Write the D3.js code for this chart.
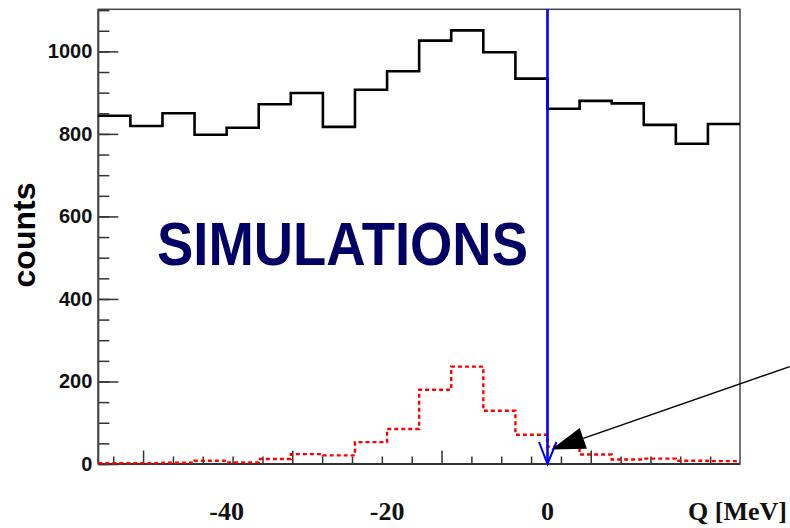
<!DOCTYPE html>
<html>
<head>
<meta charset="utf-8">
<script src="https://cdn.jsdelivr.net/npm/d3@7"></script>
<style>
  body { margin: 0; background: #ffffff; }
  svg { display: block; }
</style>
</head>
<body>
<svg id="chart" width="790" height="528"></svg>
<script>
// ===== Q-value histogram: data vs simulation =====

// lower edge of each 4 MeV bin
var binLow = [-56, -52, -48, -44, -40, -36, -32, -28, -24, -20,
              -16, -12, -8, -4, 0, 4, 8, 12, 16, 20];
var binWidth = 4;

// black solid histogram
var dataCounts = [844, 819, 850, 798, 815, 872, 899, 817, 907, 952,
                  1026, 1051, 998, 934, 861, 880, 874, 822, 776, 824];

// red dotted histogram (simulation)
var simCounts = [2, 2, 3, 8, 4, 12, 24, 21, 53, 85,
                 180, 236, 129, 71, 42, 23, 11, 13, 8, 7];

var yTicksMajor = [0, 200, 400, 600, 800, 1000];
var xLabels = [-40, -20, 0];

// the frame's own tick marks run on a different range than the labels
var frameTicksMajor = [-50, -30, -10, 10];
var frameTicksMinor = [-54, -46, -42, -38, -34, -26, -22, -18, -14,
                       -6, -2, 2, 6, 14, 18, 22, 26];

var markerQ = 0;               // blue vertical line
var arrowTail = [30.2, 236];   // [Q, counts]
var arrowTip = [0.46, 35];

var svg = d3.select("#chart");
var plotL = 98.3, plotR = 740, plotT = 9.3, plotB = 464;

var x = d3.scaleLinear().domain([-56, 24]).range([plotL, plotR]);
var xFrame = d3.scaleLinear().domain([-56, 30]).range([plotL, plotR]);
var y = d3.scaleLinear().domain([0, 1102]).range([plotB, plotT]);

function histPoints(vals) {
  var pts = binLow.map(function(lo, i) { return [lo, vals[i]]; });
  pts.push([binLow[binLow.length - 1] + binWidth, vals[vals.length - 1]]);
  return pts;
}

var stepLine = d3.line()
  .x(function(d) { return x(d[0]); })
  .y(function(d) { return y(d[1]); })
  .curve(d3.curveStepAfter);

// Frame
svg.append("rect")
  .attr("x", plotL).attr("y", plotT)
  .attr("width", plotR - plotL).attr("height", plotB - plotT)
  .attr("fill", "none").attr("stroke", "#444").attr("stroke-width", 1.5);

// Y axis ticks (inward)
var yMinorAxis = d3.axisLeft(y).tickValues(d3.range(0, 1101, 50)).tickSize(-11).tickFormat("");
svg.append("g").attr("transform", "translate(" + plotL + ",0)").call(yMinorAxis)
  .call(function(g) { g.select(".domain").remove(); })
  .selectAll("line").attr("stroke", "#333").attr("stroke-width", 1.5);

var yMajorAxis = d3.axisLeft(y).tickValues(yTicksMajor).tickSize(-20).tickPadding(6)
  .tickFormat(d3.format("d"));
var yg = svg.append("g").attr("transform", "translate(" + plotL + ",0)").call(yMajorAxis);
yg.select(".domain").remove();
yg.selectAll("line").attr("stroke", "#333").attr("stroke-width", 1.5);
yg.selectAll("text")
  .attr("font-family", "'Liberation Sans', Arial, sans-serif")
  .attr("font-size", 20).attr("font-weight", "bold").attr("fill", "#111");

// X axis ticks (inward)
var xMinorAxis = d3.axisBottom(xFrame).tickValues(frameTicksMinor).tickSize(-7.5).tickFormat("");
svg.append("g").attr("transform", "translate(0," + plotB + ")").call(xMinorAxis)
  .call(function(g) { g.select(".domain").remove(); })
  .selectAll("line").attr("stroke", "#333").attr("stroke-width", 1.5);

var xMajorAxis = d3.axisBottom(xFrame).tickValues(frameTicksMajor).tickSize(-13.5).tickFormat("");
svg.append("g").attr("transform", "translate(0," + plotB + ")").call(xMajorAxis)
  .call(function(g) { g.select(".domain").remove(); })
  .selectAll("line").attr("stroke", "#333").attr("stroke-width", 1.5);

// left and bottom axis lines a bit heavier
svg.append("line").attr("x1", plotL).attr("x2", plotL).attr("y1", plotT).attr("y2", plotB)
  .attr("stroke", "#444").attr("stroke-width", 2);
svg.append("line").attr("x1", plotL).attr("x2", plotR).attr("y1", plotB).attr("y2", plotB)
  .attr("stroke", "#333").attr("stroke-width", 2);

// X labels
svg.selectAll(".x-label")
  .data(xLabels)
  .join("text")
  .attr("class", "x-label")
  .attr("x", function(d) { return x(d); })
  .attr("y", 520)
  .attr("text-anchor", "middle")
  .attr("font-family", "'Liberation Serif', 'Times New Roman', serif")
  .attr("font-size", 26).attr("font-weight", "bold").attr("fill", "#111")
  .text(function(d) { return d; });

svg.append("text")
  .attr("x", 787).attr("y", 520)
  .attr("text-anchor", "end")
  .attr("font-family", "'Liberation Serif', 'Times New Roman', serif")
  .attr("font-size", 26).attr("font-weight", "bold").attr("fill", "#111")
  .text("Q [MeV]");

// Y title
svg.append("text")
  .attr("transform", "translate(35,235) rotate(-90)")
  .attr("text-anchor", "middle")
  .attr("font-family", "'Liberation Sans', Arial, sans-serif")
  .attr("font-size", 32).attr("font-weight", "bold").attr("fill", "#000")
  .text("counts");

// Histograms
svg.append("path")
  .attr("d", stepLine(histPoints(dataCounts)))
  .attr("fill", "none").attr("stroke", "#000").attr("stroke-width", 2.6);

svg.append("path")
  .attr("d", stepLine(histPoints(simCounts)))
  .attr("fill", "none").attr("stroke", "#ff0000").attr("stroke-width", 2.4)
  .attr("stroke-dasharray", "4,3");

// Label
svg.append("text")
  .attr("x", 157).attr("y", 264.5)
  .attr("textLength", 371).attr("lengthAdjust", "spacingAndGlyphs")
  .attr("font-family", "'Liberation Sans', Arial, sans-serif")
  .attr("font-size", 62).attr("font-weight", "bold").attr("fill", "#000066")
  .text("SIMULATIONS");

// Blue marker line with open arrow head at the bottom
var bx = x(markerQ);
svg.append("line")
  .attr("x1", bx).attr("x2", bx).attr("y1", plotT).attr("y2", y(0))
  .attr("stroke", "#0000ff").attr("stroke-width", 2.6);
svg.append("path")
  .attr("d", "M" + (bx - 8.5) + "," + (y(0) - 22) + "L" + bx + "," + y(0) +
             "L" + (bx + 9) + "," + (y(0) - 22))
  .attr("fill", "none").attr("stroke", "#0000ff").attr("stroke-width", 2);

// Black pointer arrow
var tx = x(arrowTail[0]), ty = y(arrowTail[1]);
var hx = x(arrowTip[0]), hy = y(arrowTip[1]);
var ang = Math.atan2(ty - hy, tx - hx);
var headLen = 34, headHalf = 11;
var bxm = hx + headLen * Math.cos(ang), bym = hy + headLen * Math.sin(ang);
svg.append("line")
  .attr("x1", tx).attr("y1", ty).attr("x2", bxm).attr("y2", bym)
  .attr("stroke", "#000").attr("stroke-width", 1.5);
svg.append("path")
  .attr("d", "M" + hx + "," + hy +
             "L" + (bxm - headHalf * Math.sin(ang)) + "," + (bym + headHalf * Math.cos(ang)) +
             "L" + (bxm + headHalf * Math.sin(ang)) + "," + (bym - headHalf * Math.cos(ang)) + "Z")
  .attr("fill", "#000");
</script>
</body>
</html>
